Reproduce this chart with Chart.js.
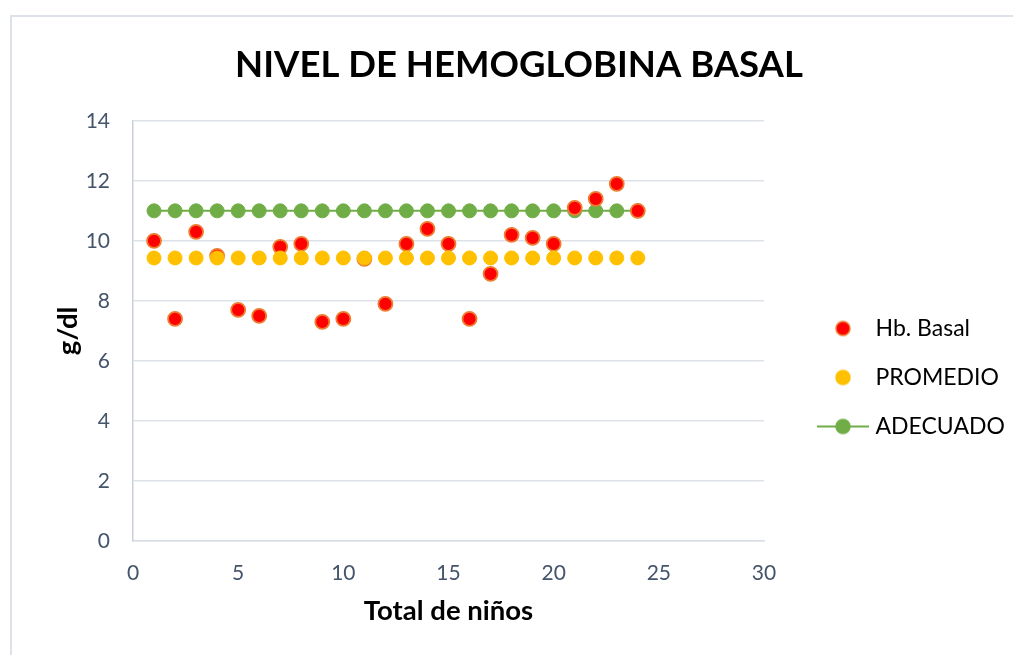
<!DOCTYPE html>
<html>
<head>
<meta charset="utf-8">
<script src="https://cdn.jsdelivr.net/npm/chart.js@4.4.1/dist/chart.umd.min.js"></script>
<style>
    html, body { margin: 0; padding: 0; background: #fff; }
    .chart { width: 1013px; height: 655px; }
</style>
</head>
<body>
<div class="chart"><canvas class="chart__chart"></canvas></div>
<script>
const ninos = [1, 2, 3, 4, 5, 6, 7, 8, 9, 10, 11, 12, 13, 14, 15, 16, 17, 18, 19, 20, 21, 22, 23, 24];
const hbBasal = [10.0, 7.4, 10.3, 9.5, 7.7, 7.5, 9.8, 9.9, 7.3, 7.4, 9.4, 7.9, 9.9, 10.4, 9.9, 7.4, 8.9, 10.2, 10.1, 9.9, 11.1, 11.4, 11.9, 11.0];
const promedio = [9.43, 9.43, 9.43, 9.43, 9.43, 9.43, 9.43, 9.43, 9.43, 9.43, 9.43, 9.43, 9.43, 9.43, 9.43, 9.43, 9.43, 9.43, 9.43, 9.43, 9.43, 9.43, 9.43, 9.43];
const adecuado = [11, 11, 11, 11, 11, 11, 11, 11, 11, 11, 11, 11, 11, 11, 11, 11, 11, 11, 11, 11, 11, 11, 11, 11];
const seriesNames = ["Hb. Basal", "PROMEDIO", "ADECUADO"];

const FONT = "Lato, 'Open Sans', sans-serif";
const RED = "#ff0000", ORANGE = "#ed7d31", GOLD = "#ffc000", GREEN = "#70ad47";

const toPoints = (ys) => ninos.map((x, i) => ({ x: x, y: ys[i] }));

// legend marks: circle drawn right of the canvas centre so the text gap matches
function legendMark(fill, stroke, withLine) {
    const c = document.createElement("canvas");
    c.width = 88;
    c.height = 18;
    const g = c.getContext("2d");
    const cx = 60, cy = 9;
    if (withLine) {
        g.strokeStyle = fill;
        g.lineWidth = 2;
        g.beginPath();
        g.moveTo(cx - 26, cy);
        g.lineTo(cx + 26, cy);
        g.stroke();
    }
    g.beginPath();
    g.arc(cx, cy, 7, 0, Math.PI * 2);
    g.fillStyle = fill;
    g.fill();
    g.lineWidth = 1.5;
    g.strokeStyle = stroke;
    g.stroke();
    return c;
}
const marks = [legendMark(RED, ORANGE, false), legendMark(GOLD, GOLD, false), legendMark(GREEN, GREEN, true)];

// measure legend text so the plot area ends at the same place as the reference
const mctx = document.createElement("canvas").getContext("2d");
mctx.font = "23px " + FONT;
const longest = Math.max(...seriesNames.map((s) => mctx.measureText(s).width));
const legendWidth = 26 + 74 + 11.5 + longest + 10;
const padRight = Math.max(0, 1013 - 764 - legendWidth);
const padLeft = 25 + padRight;

const frame = {
    id: "frame",
    beforeDraw: (chart) => {
        const { ctx } = chart;
        ctx.save();
        ctx.strokeStyle = "#dde1e8";
        ctx.lineWidth = 2;
        ctx.strokeRect(11, 16, 1200, 800);
        ctx.restore();
    },
};

new Chart(document.querySelector(".chart__chart"), {
    type: "scatter",
    data: {
        datasets: [
            {
                label: seriesNames[0],
                data: toPoints(hbBasal),
                order: 1,
                pointRadius: 7,
                pointBorderWidth: 1.8,
                pointBackgroundColor: RED,
                pointBorderColor: ORANGE,
            },
            {
                label: seriesNames[1],
                data: toPoints(promedio),
                order: 0,
                pointRadius: 7,
                pointBorderWidth: 1,
                pointBackgroundColor: GOLD,
                pointBorderColor: GOLD,
            },
            {
                label: seriesNames[2],
                data: toPoints(adecuado),
                order: 2,
                showLine: true,
                borderColor: GREEN,
                borderWidth: 2,
                pointRadius: 7,
                pointBorderWidth: 1,
                pointBackgroundColor: GREEN,
                pointBorderColor: GREEN,
            },
        ],
    },
    options: {
        responsive: true,
        maintainAspectRatio: false,
        animation: false,
        events: [],
        layout: {
            padding: { left: padLeft, right: padRight, top: 0, bottom: 26 },
        },
        plugins: {
            tooltip: { enabled: false },
            title: {
                display: true,
                text: "NIVEL DE HEMOGLOBINA BASAL",
                color: "#000",
                font: { family: FONT, size: 36.5, weight: "bold" },
                padding: { top: 43, bottom: 34 },
            },
            legend: {
                position: "right",
                align: "center",
                maxWidth: 249,
                title: {
                    display: true,
                    text: " ",
                    font: { size: 10 },
                    padding: { top: 114, bottom: 0 },
                },
                labels: {
                    usePointStyle: true,
                    pointStyleWidth: 74,
                    padding: 26,
                    color: "#000",
                    font: { family: FONT, size: 23 },
                    generateLabels: (chart) => {
                        const items = Chart.defaults.plugins.legend.labels.generateLabels(chart);
                        items.forEach((it) => { it.pointStyle = marks[it.datasetIndex]; });
                        return items.sort((a, b) => a.datasetIndex - b.datasetIndex);
                    },
                },
            },
        },
        scales: {
            x: {
                type: "linear",
                min: 0,
                max: 30,
                afterFit: (scale) => { scale.height = 88; },
                ticks: {
                    stepSize: 5,
                    padding: 20,
                    color: "#44546a",
                    font: { family: FONT, size: 21 },
                },
                grid: { display: false, drawTicks: false },
                border: { display: true, color: "#d9dde4", width: 1.5 },
                title: {
                    display: true,
                    text: "Total de niños",
                    color: "#000",
                    font: { family: FONT, size: 27.5, weight: "bold" },
                    padding: { top: 0, bottom: 1 },
                },
            },
            y: {
                min: 0,
                max: 14,
                afterFit: (scale) => { scale.width = 133 - padLeft; },
                ticks: {
                    stepSize: 2,
                    padding: 23,
                    color: "#44546a",
                    font: { family: FONT, size: 21 },
                },
                grid: { color: "#dde1e8", lineWidth: 1.5, drawTicks: false },
                border: { display: true, color: "#c9d0db", width: 1.5 },
                title: {
                    display: true,
                    text: "g/dl",
                    color: "#000",
                    font: { family: FONT, size: 27.5, weight: "bold" },
                    padding: { top: 27, bottom: 0 },
                },
            },
        },
    },
    plugins: [frame],
});
</script>
</body>
</html>
